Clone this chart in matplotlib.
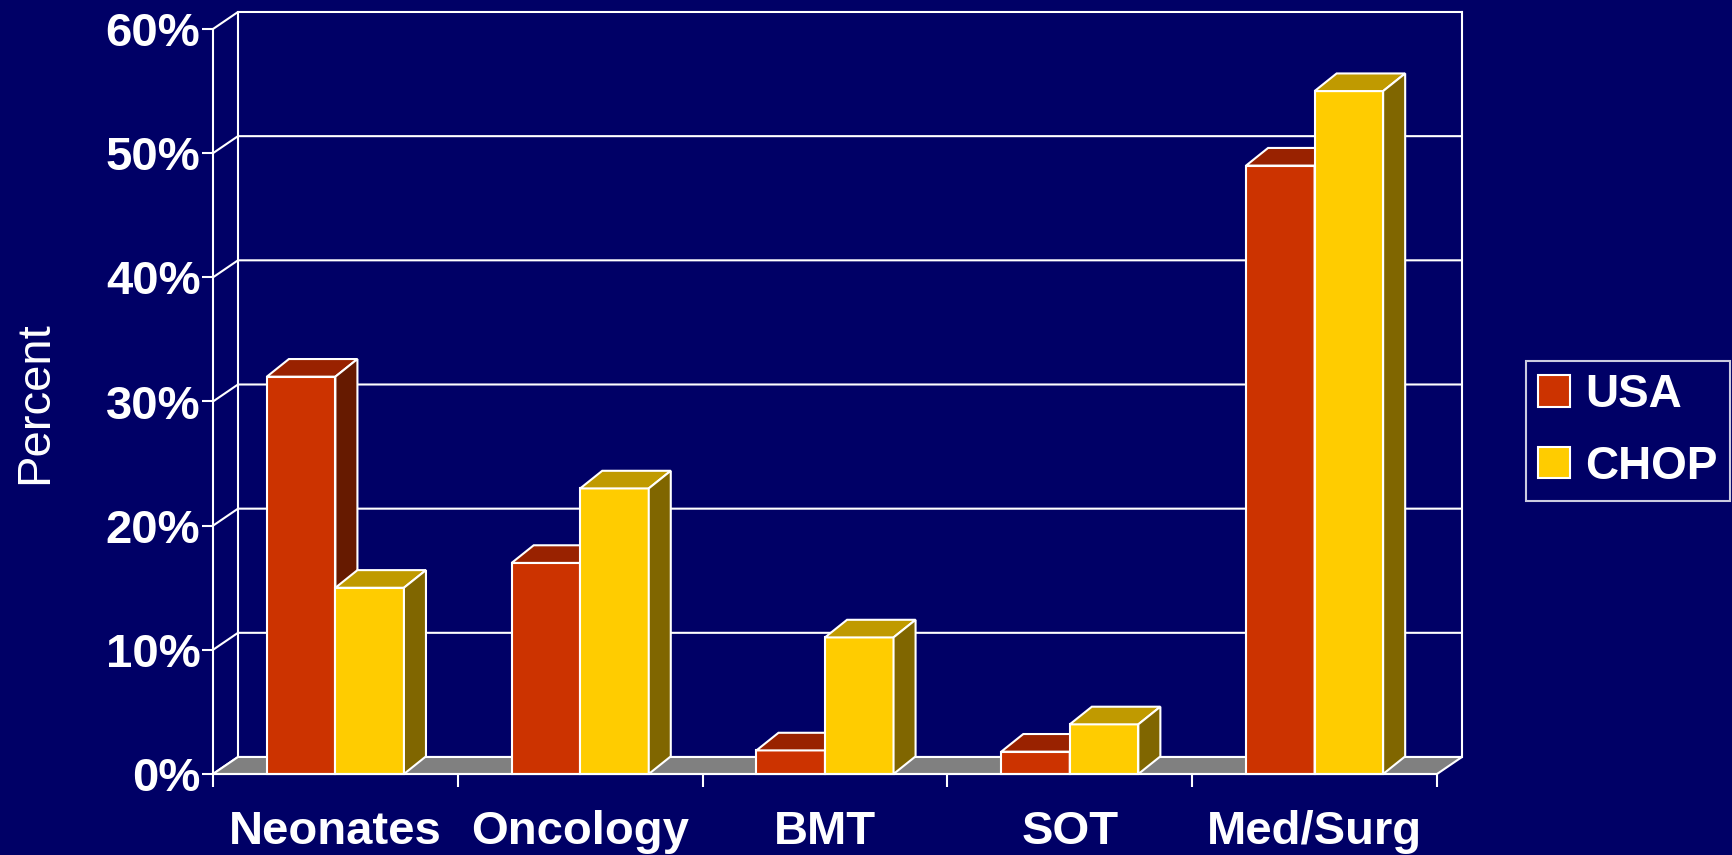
import matplotlib
matplotlib.use("Agg")
import matplotlib.pyplot as plt
from matplotlib.patches import Polygon, Patch

# ---- data -------------------------------------------------------------
categories = ["Neonates", "Oncology", "BMT", "SOT", "Med/Surg"]
series_names = ["USA", "CHOP"]
usa_values = [32, 17, 1.9, 1.8, 49]
chop_values = [15, 23, 11, 4, 55]
y_ticks = [0, 10, 20, 30, 40, 50, 60]
y_tick_labels = ["0%", "10%", "20%", "30%", "40%", "50%", "60%"]

# ---- style ------------------------------------------------------------
BG = "#000066"
EDGE = "white"
LW = 1.5
FLOOR = "#808080"
# (front, top, side) shades for each series
SHADES = {
    "USA": ("#CC3300", "#992200", "#661A00"),
    "CHOP": ("#FFCC00", "#C09A00", "#806600"),
}
FONT = "Liberation Sans"
FS = 34

W, H = 1733, 855
fig = plt.figure(figsize=(W / 100, H / 100), dpi=100, facecolor=BG)
ax = fig.add_axes([213 / W, 81 / H, 1224 / W, 745 / H])
ax.patch.set_visible(False)
ax.set_xlim(-0.5, len(categories) - 0.5)
ax.set_ylim(0, 60)

# depth offsets of the 3-D look, expressed in data units
FLOOR_DX, FLOOR_DY = 0.102, 1.37
BAR_DX, BAR_DY = 0.09, 1.42
BAR_W = 0.28

x_lo, x_hi = -0.5, len(categories) - 0.5

# back wall: gridlines with their diagonal links to the front axis
for t in y_ticks:
    ax.plot([x_lo, x_lo + FLOOR_DX, x_hi + FLOOR_DX],
            [t, t + FLOOR_DY, t + FLOOR_DY],
            color=EDGE, lw=LW, clip_on=False, zorder=1,
            solid_joinstyle="miter")
for xb in (x_lo + FLOOR_DX, x_hi + FLOOR_DX):
    ax.plot([xb, xb], [FLOOR_DY, y_ticks[-1] + FLOOR_DY],
            color=EDGE, lw=LW, clip_on=False, zorder=1)

# floor
floor = Polygon([(x_lo, 0), (x_hi, 0), (x_hi + FLOOR_DX, FLOOR_DY),
                 (x_lo + FLOOR_DX, FLOOR_DY)],
                closed=True, facecolor=FLOOR, edgecolor=EDGE, lw=LW,
                clip_on=False, zorder=2, joinstyle="miter")
ax.add_patch(floor)


def bar3d(x0, value, shades, z):
    x1 = x0 + BAR_W
    front, top, side = shades
    faces = [
        ([(x0, 0), (x1, 0), (x1, value), (x0, value)], front),
        ([(x0, value), (x1, value), (x1 + BAR_DX, value + BAR_DY),
          (x0 + BAR_DX, value + BAR_DY)], top),
        ([(x1, 0), (x1 + BAR_DX, BAR_DY), (x1 + BAR_DX, value + BAR_DY),
          (x1, value)], side),
    ]
    for verts, col in faces:
        ax.add_patch(Polygon(verts, closed=True, facecolor=col,
                             edgecolor=EDGE, lw=LW, clip_on=False,
                             zorder=z, joinstyle="miter"))


z = 3
for i in range(len(categories)):
    bar3d(i - BAR_W, usa_values[i], SHADES["USA"], z)
    z += 1
    bar3d(i, chop_values[i], SHADES["CHOP"], z)
    z += 1

# ---- axes -------------------------------------------------------------
for s in ("top", "right"):
    ax.spines[s].set_visible(False)
for s in ("left", "bottom"):
    ax.spines[s].set_color(EDGE)
    ax.spines[s].set_linewidth(LW)
    ax.spines[s].set_zorder(20)

ax.set_yticks(y_ticks)
ax.set_yticklabels(y_tick_labels, fontsize=FS, fontweight="bold",
                   color="white", family=FONT)
ax.tick_params(axis="y", direction="out", length=8, width=LW,
               color=EDGE, pad=1)

ax.set_xticks([i - 0.5 for i in range(len(categories) + 1)])
ax.set_xticklabels([])
ax.set_xticks(range(len(categories)), minor=True)
ax.set_xticklabels(categories, minor=True, fontsize=FS, fontweight="bold",
                   color="white", family=FONT)
ax.tick_params(axis="x", which="major", direction="out", length=9.5,
               width=LW, color=EDGE)
ax.tick_params(axis="x", which="minor", length=0, pad=26)

fig.text(35 / W, 1 - 403 / H, "Percent", rotation=90, ha="center",
         va="center", color="white", fontsize=FS, family=FONT)

handles = [Patch(facecolor=SHADES[n][0], edgecolor=EDGE, lw=LW)
           for n in series_names]
leg = fig.legend(handles, series_names, loc="center left",
                 bbox_to_anchor=(1526 / W, 1 - 431 / H),
                 borderaxespad=0, frameon=True, fancybox=False,
                 prop={"family": FONT, "weight": "bold", "size": 33},
                 handlelength=0.68, handleheight=0.68, handletextpad=0.35,
                 borderpad=0.27, labelspacing=0.6)
leg.get_frame().set_facecolor(BG)
leg.get_frame().set_edgecolor(EDGE)
leg.get_frame().set_linewidth(LW)
for t in leg.get_texts():
    t.set_color("white")

fig.savefig("out.png", dpi=100, facecolor=BG)
